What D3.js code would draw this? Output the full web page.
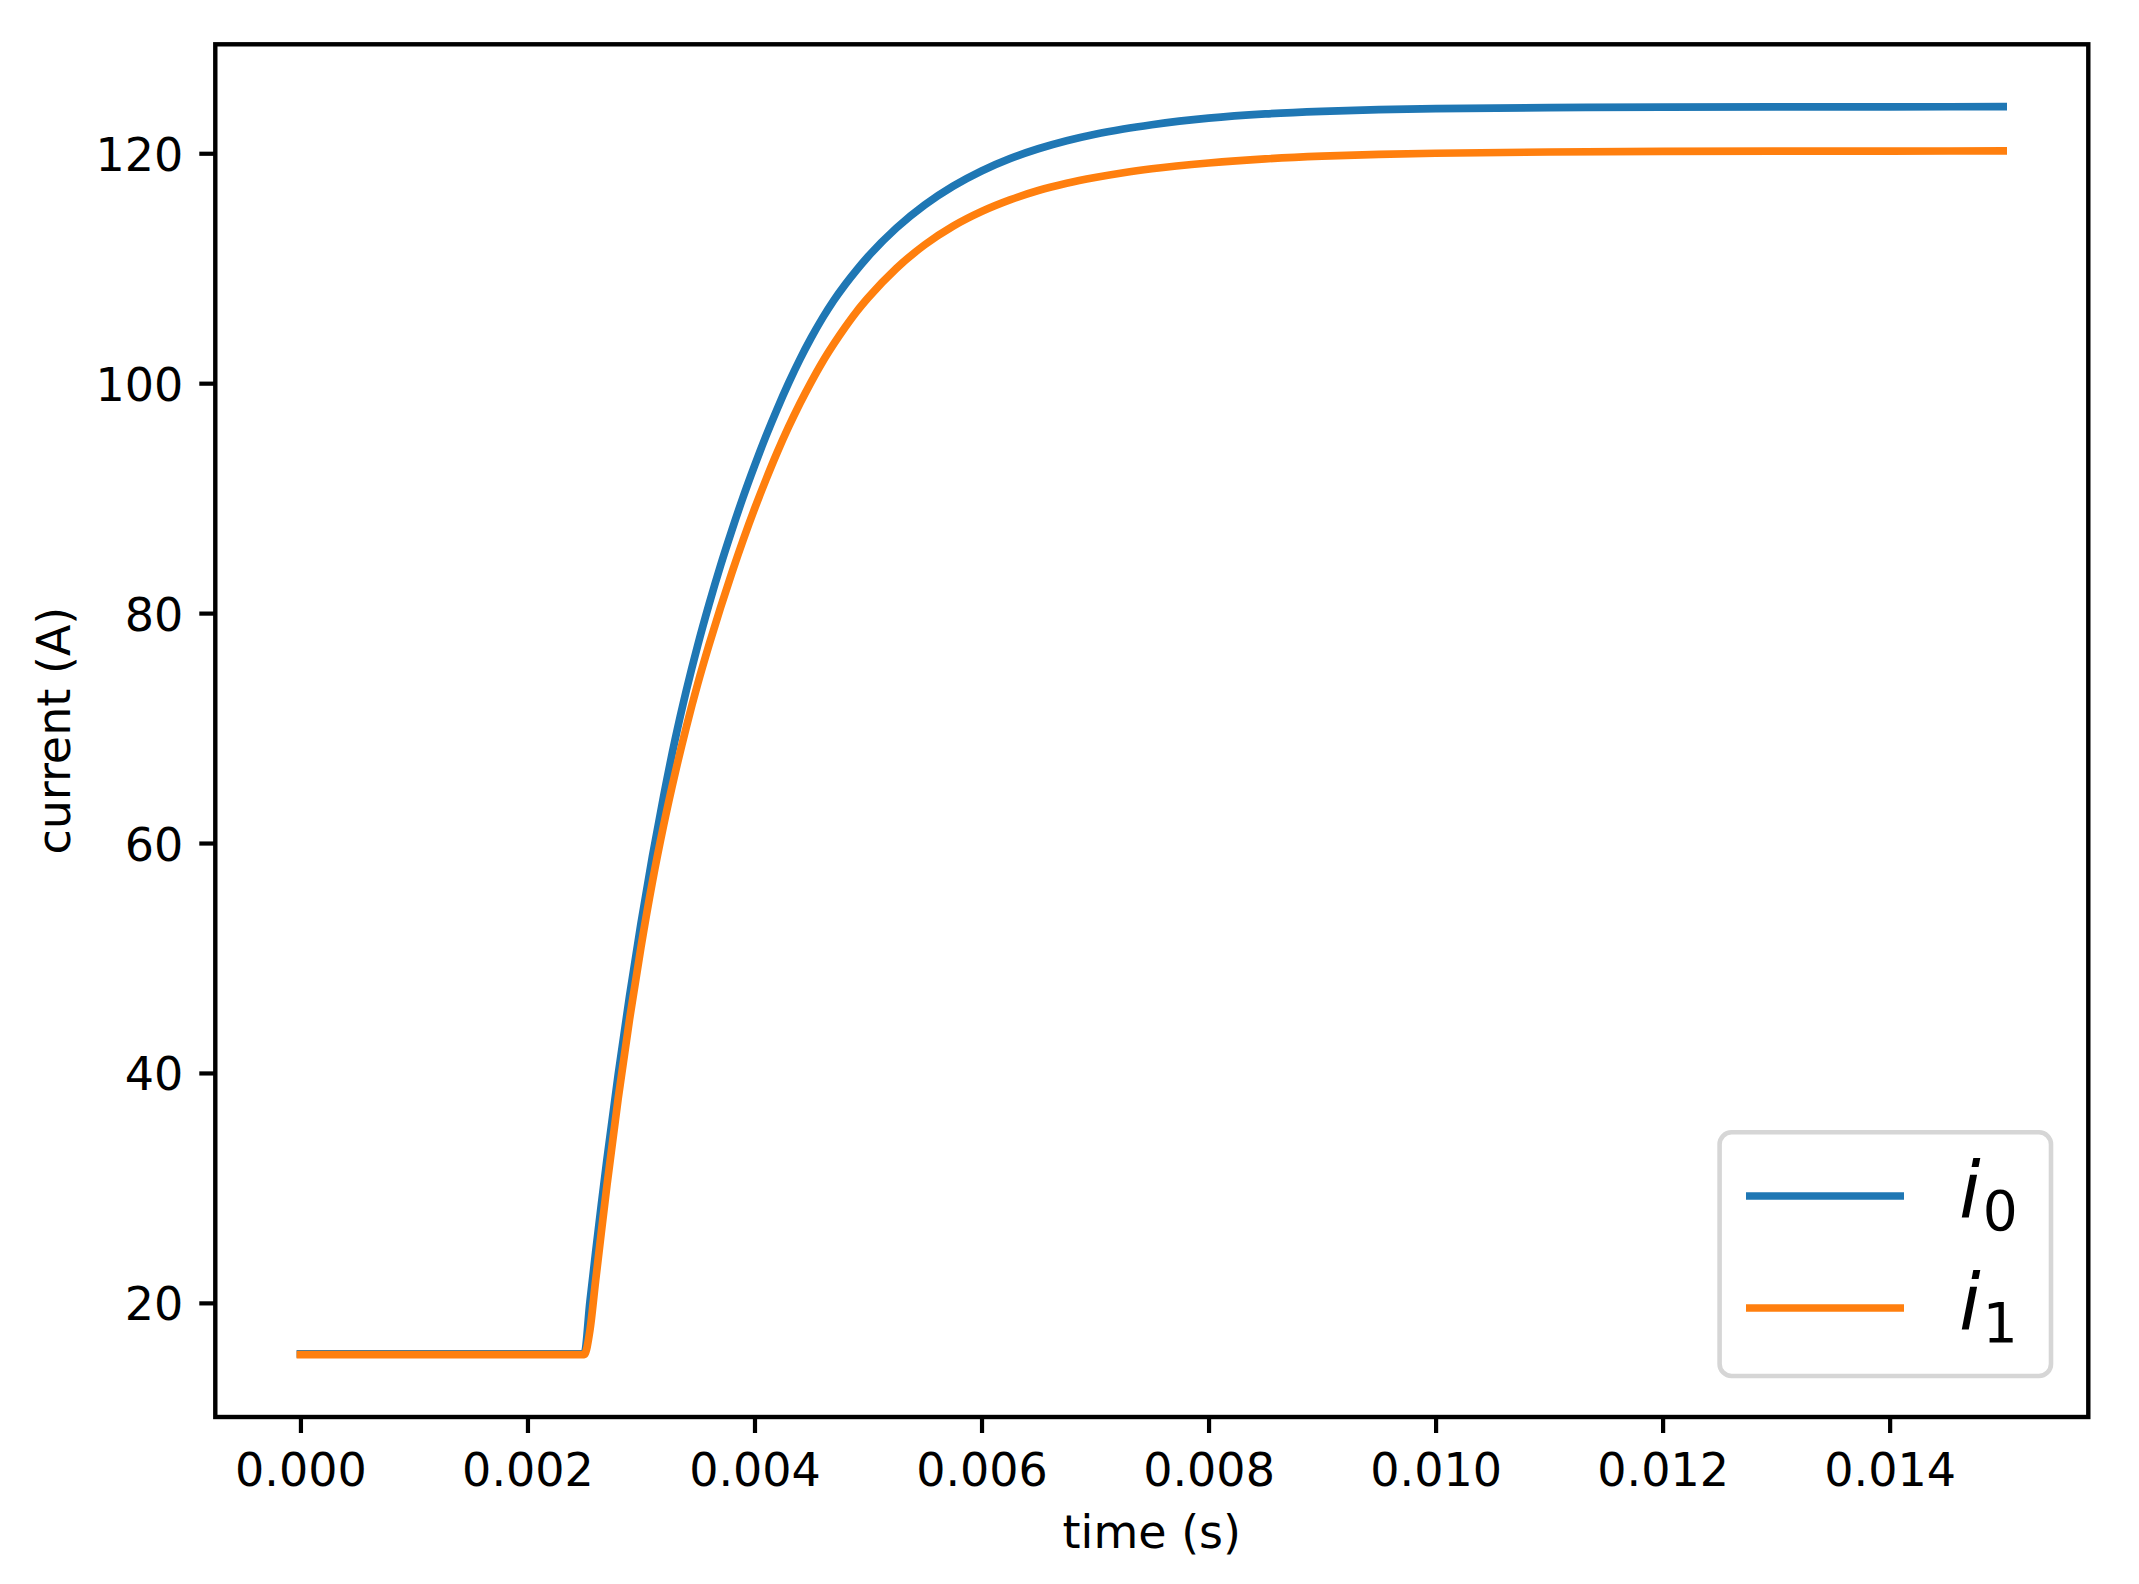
<!DOCTYPE html>
<html>
<head>
<meta charset="utf-8">
<script src="https://cdn.jsdelivr.net/npm/d3@7"></script>
<style>
  html, body { margin: 0; padding: 0; background: #ffffff; }
  svg { display: block; }
  text { font-family: "DejaVu Sans", sans-serif; fill: #000; }
</style>
</head>
<body>
<svg id="chart" width="2139" height="1584"></svg>
<script>
// ---- data ----
const time = [0, 0.0025, 0.00255, 0.0026, 0.00265, 0.0027, 0.0028, 0.0029, 0.003, 0.0031,
  0.0032, 0.0033, 0.0034, 0.0035, 0.0036, 0.0037, 0.0038, 0.0039, 0.004, 0.0041,
  0.0042, 0.0043, 0.0044, 0.0045, 0.0046, 0.0047, 0.0048, 0.0049, 0.005, 0.00525,
  0.0055, 0.00575, 0.006, 0.00625, 0.0065, 0.00675, 0.007, 0.00725, 0.0075, 0.008,
  0.0085, 0.009, 0.0095, 0.010, 0.011, 0.012, 0.013, 0.014, 0.015];

const currentI0 = [15.56, 15.56, 20.05, 24.37, 28.5, 32.47, 39.91, 46.74, 53.02, 58.8,
  64.1, 68.97, 73.3, 77.21, 80.78, 84.11, 87.19, 90.1, 92.81, 95.37,
  97.76, 100.0, 102.07, 103.96, 105.68, 107.23, 108.6, 109.85, 111.01, 113.5,
  115.51, 117.14, 118.46, 119.53, 120.39, 121.09, 121.66, 122.11, 122.48, 123.05,
  123.42, 123.65, 123.8, 123.89, 123.97, 124.01, 124.03, 124.04, 124.05];

const currentI1 = [15.5, 15.5, 17.6, 21.9, 26.1, 30.2, 37.85, 44.72, 50.95, 56.59,
  61.57, 66.04, 70.12, 73.85, 77.25, 80.46, 83.49, 86.36, 89.06, 91.59,
  93.98, 96.19, 98.23, 100.12, 101.87, 103.44, 104.89, 106.23, 107.42, 109.99,
  112.04, 113.66, 114.93, 115.94, 116.76, 117.39, 117.89, 118.31, 118.65, 119.15,
  119.51, 119.75, 119.9, 120.0, 120.11, 120.16, 120.18, 120.19, 120.2];

const seriesNames = ["0", "1"];           // subscripts of i
const seriesColors = ["#1f77b4", "#ff7f0e"];
const xTicks = [0, 0.002, 0.004, 0.006, 0.008, 0.010, 0.012, 0.014];
const xTickLabels = ["0.000", "0.002", "0.004", "0.006", "0.008", "0.010", "0.012", "0.014"];
const yTicks = [20, 40, 60, 80, 100, 120];
const yTickLabels = ["20", "40", "60", "80", "100", "120"];
const xTitle = "time (s)";
const yTitle = "current (A)";

// ---- layout ----
const plot = { left: 215.3, right: 2088.3, top: 44.3, bottom: 1417 };
const FONT = 46;

const series = [currentI0, currentI1].map(vals => time.map((t, i) => ({ t, v: vals[i] })));

const allV = currentI0.concat(currentI1);
const [tMin, tMax] = d3.extent(time);
const [vMin, vMax] = d3.extent(allV);
const tPad = (tMax - tMin) * 0.05, vPad = (vMax - vMin) * 0.05;

const x = d3.scaleLinear().domain([tMin - tPad, tMax + tPad]).range([plot.left, plot.right]);
const y = d3.scaleLinear().domain([vMin - vPad, vMax + vPad]).range([plot.bottom, plot.top]);

const svg = d3.select("#chart");
svg.append("rect").attr("width", 2139).attr("height", 1584).attr("fill", "#fff");

svg.append("defs").append("clipPath").attr("id", "clip")
  .append("rect")
  .attr("x", plot.left).attr("y", plot.top)
  .attr("width", plot.right - plot.left).attr("height", plot.bottom - plot.top);

// lines
const line = d3.line().x(d => x(d.t)).y(d => y(d.v)).curve(d3.curveMonotoneX);
const gLines = svg.append("g").attr("clip-path", "url(#clip)");
series.forEach((s, i) => {
  gLines.append("path")
    .datum(s)
    .attr("d", line)
    .attr("fill", "none")
    .attr("stroke", seriesColors[i])
    .attr("stroke-width", 7.7)
    .attr("stroke-linecap", "square")
    .attr("stroke-linejoin", "round");
});

// x axis
const xAxis = d3.axisBottom(x).tickValues(xTicks).tickSize(16).tickPadding(14)
  .tickFormat((d, i) => xTickLabels[i]);
const gx = svg.append("g").attr("transform", `translate(0,${plot.bottom})`).call(xAxis);
gx.select(".domain").remove();
gx.selectAll(".tick line").attr("stroke", "#000").attr("stroke-width", 4.2);
gx.selectAll(".tick text").attr("font-size", FONT).attr("font-family", "DejaVu Sans")
  .attr("fill", "#000").attr("dy", null).attr("y", 69);

// y axis
const yAxis = d3.axisLeft(y).tickValues(yTicks).tickSize(16).tickPadding(16)
  .tickFormat((d, i) => yTickLabels[i]);
const gy = svg.append("g").attr("transform", `translate(${plot.left},0)`).call(yAxis);
gy.select(".domain").remove();
gy.selectAll(".tick line").attr("stroke", "#000").attr("stroke-width", 4.2);
gy.selectAll(".tick text").attr("font-size", FONT).attr("font-family", "DejaVu Sans")
  .attr("fill", "#000").attr("dy", null).attr("x", -32).attr("y", 17);

// frame (spines)
svg.append("rect")
  .attr("x", plot.left).attr("y", plot.top)
  .attr("width", plot.right - plot.left).attr("height", plot.bottom - plot.top)
  .attr("fill", "none").attr("stroke", "#000").attr("stroke-width", 4.4)
  .attr("stroke-linejoin", "miter");

// axis titles
svg.append("text")
  .attr("x", (plot.left + plot.right) / 2).attr("y", 1548)
  .attr("text-anchor", "middle").attr("font-size", FONT)
  .text(xTitle);
svg.append("text")
  .attr("transform", `translate(70,${(plot.top + plot.bottom) / 2}) rotate(-90)`)
  .attr("text-anchor", "middle").attr("font-size", FONT)
  .text(yTitle);

// legend
const lg = svg.append("g");
lg.append("rect")
  .attr("x", 1719.6).attr("y", 1132.3).attr("width", 331.4).attr("height", 243.7)
  .attr("rx", 12).attr("ry", 12)
  .attr("fill", "#ffffff").attr("fill-opacity", 0.8)
  .attr("stroke", "#d6d6d6").attr("stroke-width", 4.6);
const legendRows = [1196, 1308];
seriesNames.forEach((name, i) => {
  const cy = legendRows[i];
  lg.append("line")
    .attr("x1", 1746).attr("x2", 1904).attr("y1", cy).attr("y2", cy)
    .attr("stroke", seriesColors[i]).attr("stroke-width", 7.7);
  const t = lg.append("text").attr("x", 1959).attr("y", cy + 22).attr("font-size", 78);
  t.append("tspan").attr("font-style", "italic").text("i");
  t.append("tspan").attr("font-size", 55).attr("dy", 12).attr("dx", 2).text(name);
});
</script>
</body>
</html>
